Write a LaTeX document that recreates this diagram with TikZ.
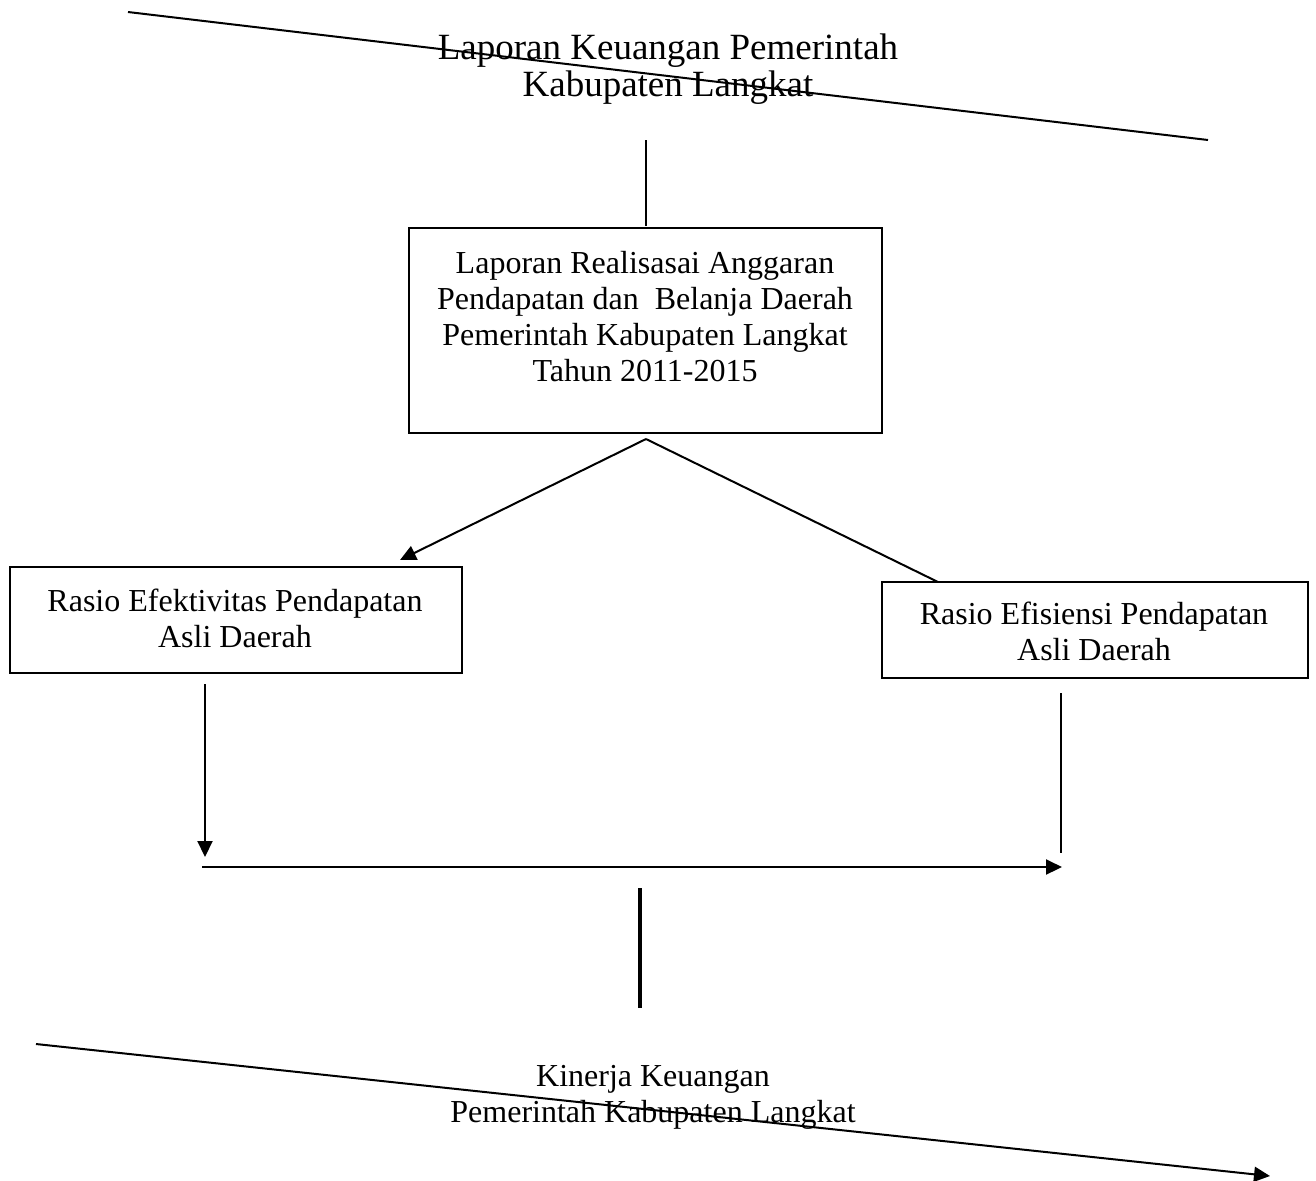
\documentclass[tikz,border=0pt]{standalone}
\usepackage{fontspec}
\setmainfont{Liberation Serif}
\usetikzlibrary{arrows.meta}
\begin{document}
\begin{tikzpicture}[x=0.5pt,y=-0.5pt,
  every node/.style={inner sep=0pt,outer sep=0pt},
  ln/.style={line width=1pt,black},
  arr/.style={ln,-{Triangle[length=8pt,width=7.5pt]}},
  thick line/.style={line width=2pt,black},
  boxshape/.style={draw,line width=1pt},
  txt/.style={align=center,font=\fontsize{16}{18}\selectfont},
  titletxt/.style={align=center,font=\fontsize{18.5}{18.5}\selectfont}]
\useasboundingbox (0,0) rectangle (1316,1180);
% title
\node[titletxt] (title) at (668,69) {Laporan Keuangan Pemerintah\\Kabupaten Langkat};
\coordinate (tl) at (128,12);
\coordinate (tr) at (1208,140);
\draw[ln] (tl) -- (tr);
% box 1
\node[boxshape,minimum width=236.5pt,minimum height=102.5pt] (lra) at (645.5,330.5) {};
\node[txt] (lratext) at (645,317) {Laporan Realisasai Anggaran\\Pendapatan dan\ \ Belanja Daerah\\Pemerintah Kabupaten Langkat\\Tahun 2011-2015};
\coordinate (vtop) at (646,140);
\coordinate (vbot) at (646,226);
\draw[ln] (vtop) -- (vbot);
% left and right boxes
\node[boxshape,minimum width=226pt,minimum height=53pt] (efek) at (236,620) {};
\node[txt] (efektext) at (235,618) {Rasio Efektivitas Pendapatan\\Asli Daerah};
\node[boxshape,minimum width=213pt,minimum height=48pt] (efis) at (1095,630) {};
\node[txt] (efistext) at (1094,631) {Rasio Efisiensi Pendapatan\\Asli Daerah};
% branches
\coordinate (peak) at (646,439);
\coordinate (ltip) at (400,560);
\coordinate (rend) at (938,582);
\draw[arr] (peak) -- (ltip);
\draw[ln] (peak) -- (rend);
% verticals and horizontal
\coordinate (ldtop) at (205,684);
\coordinate (ldbot) at (205,857);
\draw[arr] (ldtop) -- (ldbot);
\coordinate (hl) at (202,867);
\coordinate (hr) at (1062,867);
\draw[arr] (hl) -- (hr);
\coordinate (rvtop) at (1061,693);
\coordinate (rvbot) at (1061,853);
\draw[ln] (rvtop) -- (rvbot);
\coordinate (ttop) at (640,888);
\coordinate (tbot) at (640,1008);
\draw[thick line] (ttop) -- (tbot);
% bottom
\node[txt] (kinerja) at (653,1097) {Kinerja Keuangan\\Pemerintah Kabupaten Langkat};
\coordinate (bl) at (36,1044);
\coordinate (br) at (1270,1176);
\draw[arr] (bl) -- (br);
\end{tikzpicture}
\end{document}
